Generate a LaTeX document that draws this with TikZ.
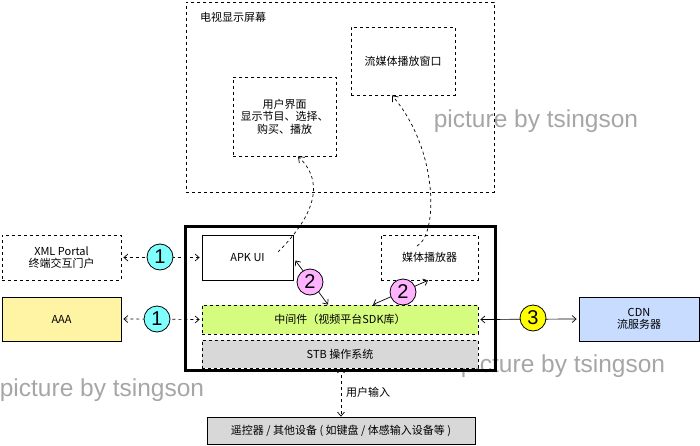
\documentclass[tikz,border=0pt]{standalone}
\usepackage{fontspec}
\setmainfont{Noto Sans CJK SC}
\newfontfamily\wmfont{Liberation Sans}
\usetikzlibrary{arrows.meta,calc}
\definecolor{cyanc}{HTML}{80FFFF}
\definecolor{pinkc}{HTML}{FFB3FF}
\definecolor{yelc}{HTML}{FFFF00}
\definecolor{aaac}{HTML}{FFF4A3}
\definecolor{mwc}{HTML}{D5FB7F}
\definecolor{osc}{HTML}{D8D8D8}
\definecolor{cdnc}{HTML}{C7DCFF}
\definecolor{wmc}{HTML}{A6A6A6}
\tikzset{
  box/.style={draw, line width=0.8pt, inner sep=0pt, font=\fontsize{11}{12.5}\selectfont, align=center},
  dbox/.style={box, dash pattern=on 3pt off 3pt},
  badge/.style={circle, draw, line width=0.8pt, minimum size=26pt, inner sep=0pt, font=\wmfont\fontsize{20}{20}\selectfont},
  conn/.style={line width=0.7pt, {Straight Barb[length=4pt,width=7pt]}-{Straight Barb[length=4pt,width=7pt]}},
  dconn/.style={conn, dash pattern=on 3pt off 3pt},
  curv/.style={line width=0.7pt, dash pattern=on 3pt off 3pt, -{Straight Barb[length=5pt,width=8pt]}},
  wm/.style={text=wmc, font=\wmfont\fontsize{24.5}{24.5}\selectfont, inner sep=0pt},
}
\begin{document}
\begin{tikzpicture}[x=1pt,y=-1pt]
\useasboundingbox (0,0) rectangle (700,446);
% watermarks
\node[wm] (wm1) at (536,121) {picture by tsingson};
\node[wm] (wm2) at (102,390) {picture by tsingson};
\node[wm] (wm3) at (563,366) {picture by tsingson};
% TV screen
\node[dbox, minimum width=308pt, minimum height=190pt] (tv) at (340,97) {};
\node[anchor=west, inner sep=0pt, font=\fontsize{11}{12.5}\selectfont] (tvlabel) at (200,17) {电视显示屏幕};
\node[dbox, minimum width=104pt, minimum height=68pt] (stream) at (403,61) {流媒体播放窗口};
\node[dbox, minimum width=103pt, minimum height=79pt] (ui) at (284.5,116.5) {用户界面\\显示节目、选择、\\购买、播放};
% STB
\node[draw, line width=3pt, minimum width=310pt, minimum height=144pt] (stb) at (340,298) {};
\node[box, fill=white, minimum width=91pt, minimum height=45pt] (apk) at (247.5,257.5) {APK UI};
\node[dbox, minimum width=97pt, minimum height=45pt] (player) at (429.5,257.5) {媒体播放器};
\node[dbox, fill=mwc, minimum width=276pt, minimum height=29pt] (mw) at (340,319.5) {中间件（视频平台SDK库）};
\node[dbox, fill=osc, minimum width=276pt, minimum height=28pt] (os) at (340,354) {STB 操作系统};
% outside
\node[dbox, minimum width=119pt, minimum height=45pt] (xml) at (61.5,257.5) {XML Portal\\终端交互门户};
\node[box, fill=aaac, minimum width=119pt, minimum height=44pt] (aaa) at (61.5,319) {AAA};
\node[box, fill=cdnc, minimum width=120pt, minimum height=44pt] (cdn) at (639,319) {CDN\\流服务器};
\node[box, fill=osc, minimum width=268pt, minimum height=27pt] (remote) at (341,430.5) {遥控器 / 其他设备 ( 如键盘 / 体感输入设备等 )};
\node[inner sep=0pt, font=\fontsize{11}{12.5}\selectfont] (uin) at (368,392) {用户输入};
% connectors
\draw[dconn] ([xshift=2pt]xml.east) -- ([xshift=-2pt]apk.west);
\draw[dconn] ([xshift=2pt]aaa.east) -- ([xshift=-2pt]mw.west);
\draw[conn] ([xshift=2pt]mw.east) -- ([xshift=-2pt]cdn.west);
\draw[dconn] (os.south -| 341,0) -- (remote.north -| 341,0);
\coordinate (a2s) at ([yshift=-3pt]apk.east);
\coordinate (a2e) at (mw.north -| 328,0);
\draw[conn] ([xshift=2pt]a2s) -- (a2e);
\coordinate (b2s) at (mw.north -| 373,0);
\coordinate (b2e) at (player.south -| 428,0);
\draw[conn] (b2s) -- (b2e);
% curves
\coordinate (c1s) at (278,252);
\draw[curv] (c1s) .. controls (325,205) and (318,175) .. (ui.south -| 298,0);
\coordinate (c2s) at (417,246);
\draw[curv] (c2s) .. controls (438,235) and (439,150) .. (stream.south -| 392,0);
% badges
\node[badge, fill=cyanc] (b1a) at (160,257) {1};
\node[badge, fill=cyanc] (b1b) at (157,319) {1};
\node[badge, fill=pinkc] (b2a) at (310,282) {2};
\node[badge, fill=pinkc] (b2b) at (403,292) {2};
\node[badge, fill=yelc] (b3) at (533,318) {3};
\end{tikzpicture}
\end{document}
